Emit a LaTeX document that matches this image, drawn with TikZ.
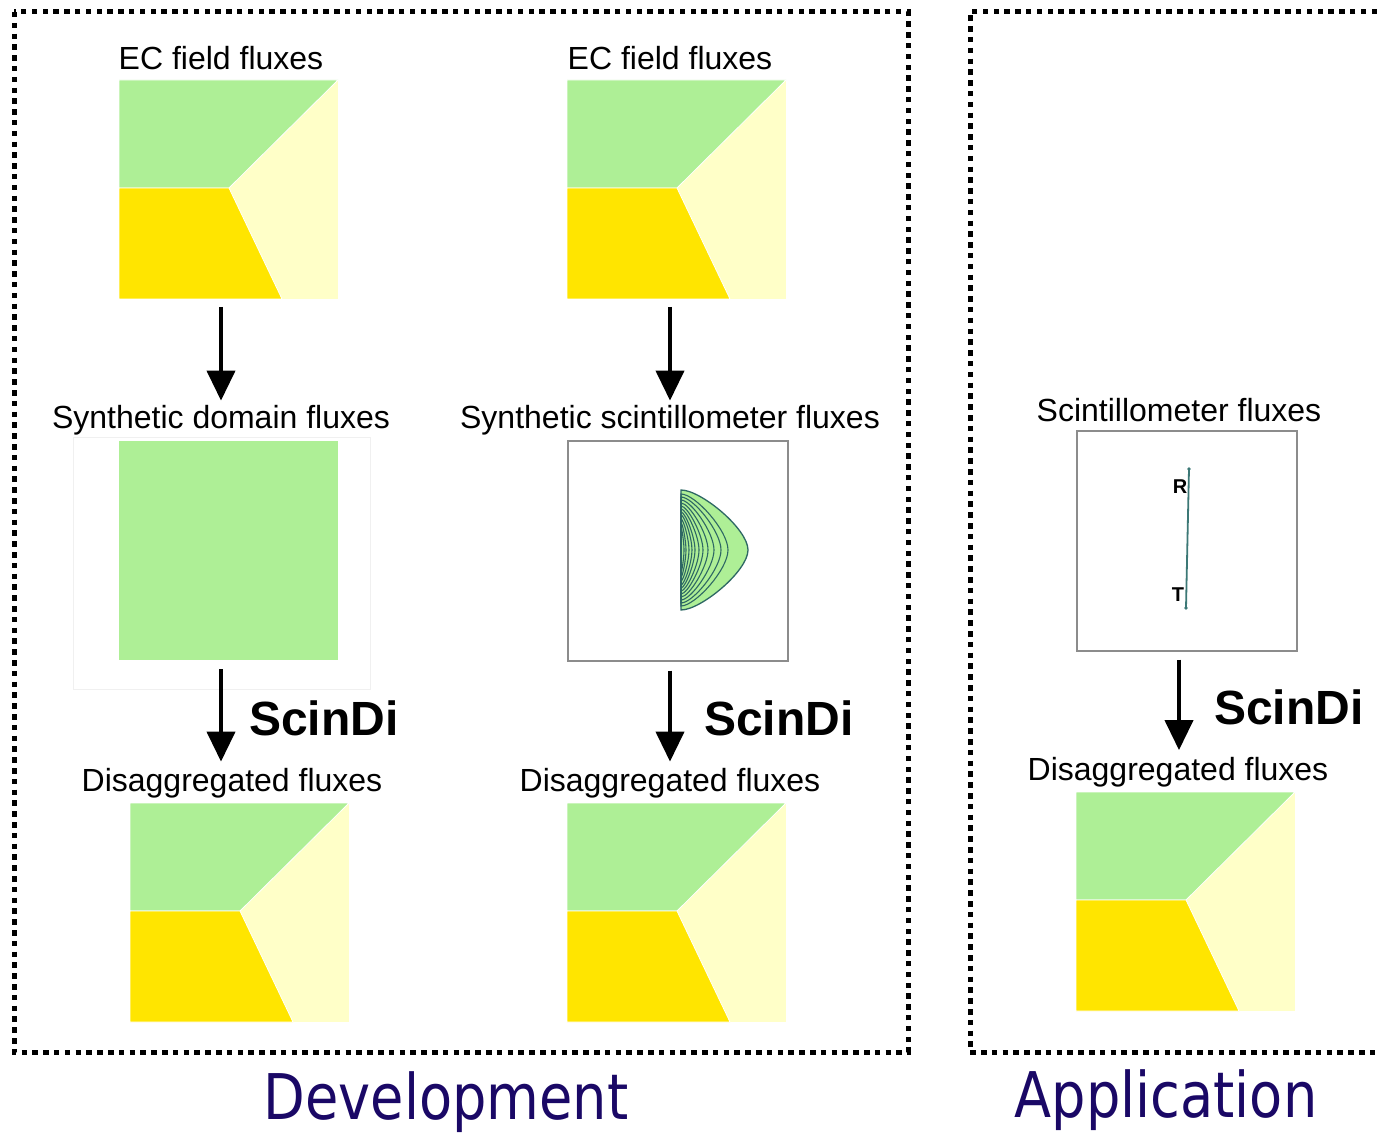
\documentclass[tikz,border=0pt]{standalone}
\usepackage{fontspec}
\setmainfont{Liberation Sans}
\newfontfamily\titlefont[FakeStretch=0.86]{DejaVu Sans}
\usetikzlibrary{arrows.meta,calc}

\definecolor{fluxgreen}{RGB}{174,239,150}
\definecolor{fluxyellow}{RGB}{255,229,0}
\definecolor{fluxpale}{RGB}{255,255,200}
\definecolor{contourline}{RGB}{46,104,100}
\definecolor{pathline}{RGB}{60,120,118}
\definecolor{titleblue}{RGB}{26,8,102}
\definecolor{framegray}{RGB}{140,140,140}

\tikzset{
  mapsq/.style={rectangle, minimum width=219pt, minimum height=219pt, inner sep=0pt, outer sep=0pt},
  lbl/.style={inner sep=0pt, text=black, font=\fontsize{32}{36}\selectfont},
  scindi/.style={inner sep=0pt, text=black, font=\fontsize{48}{52}\selectfont\bfseries},
  arr/.style={line width=4pt, -{Triangle[width=28pt,length=30pt]}},
  dotframe/.style={line width=5pt, dash pattern=on 5.5pt off 5.3pt},
  titletext/.style={inner sep=0pt, text=titleblue, font=\titlefont\fontsize{63}{70}\selectfont},
  plotbox/.style={rectangle, draw=framegray, line width=1.6pt, minimum width=220pt, minimum height=220pt, inner sep=0pt},
  endlbl/.style={inner sep=0pt, text=black, font=\fontsize{20}{22}\selectfont\bfseries},
  regionedge/.style={draw=white, line width=0.8pt},
}

% Three-field flux map: pale background, green upper field, yellow lower-left field
\newcommand\ecmap[2]{%
  \node[mapsq, anchor=north west] (#1) at (#2) {};
  \fill[fluxpale] (#1.north west) rectangle (#1.south east);
  \fill[fluxgreen, regionedge] (#1.north west) -- (#1.north east)
    -- ($(#1.north west)+(110,108)$) -- ($(#1.north west)+(0,108)$) -- cycle;
  \fill[fluxyellow, regionedge] ($(#1.north west)+(0,108)$) -- ($(#1.north west)+(110,108)$)
    -- ($(#1.north west)+(163,219)$) -- (#1.south west) -- cycle;
}

\begin{document}
\begin{tikzpicture}[x=1pt, y=-1pt]
\useasboundingbox (0,0) rectangle (1377,1134);
\fill[white] (0,0) rectangle (1377,1134);

% dotted frames
\draw[dotframe] (14,12) rectangle (908,1052);
\draw[dotframe] (1377,12) -- (970,12) -- (970,1052) -- (1377,1052);

% ---- column 1: synthetic domain ----
\node[lbl, anchor=base] (ec1) at (221,70) {EC field fluxes};
\ecmap{ec1map}{119,80}
\node[lbl, anchor=base] (syn1) at (221,428) {Synthetic domain fluxes};
\draw[black!6, line width=0.8pt] (73,437) rectangle (370,689);
\node[mapsq, fill=fluxgreen, anchor=north west] (syn1map) at (119,441) {};
\node[scindi, anchor=base west] (sd1) at (249,735) {ScinDi};
\node[lbl, anchor=base] (dis1) at (232,791) {Disaggregated fluxes};
\ecmap{dis1map}{130,803}
\draw[arr, shorten <=8pt, shorten >=4pt] (ec1map.south -| syn1.north) -- (syn1.north);
\draw[arr, shorten <=9pt, shorten >=6pt] (syn1map.south -| syn1.north) -- (dis1.north -| syn1.north);

% ---- column 2: synthetic scintillometer ----
\node[lbl, anchor=base] (ec2) at (670,70) {EC field fluxes};
\ecmap{ec2map}{567,80}
\node[lbl, anchor=base] (syn2) at (670,428) {Synthetic scintillometer fluxes};
\node[plotbox, anchor=north west] (syn2box) at (567,440) {};
% footprint contours
\filldraw[fill=fluxgreen, draw=contourline, line width=1.3pt]
  (681,490) .. controls (701,490) and (748,529) .. (748,550)
  .. controls (748,571) and (701,610) .. (681,610) -- cycle;
\foreach \w/\h in {47/56, 40/53, 33/50, 27/47, 22/44, 18/41, 14/38, 11/35, 8/31, 5/27, 3/22} {
  \draw[contourline, line width=1.1pt]
    (681,{550-\h}) .. controls ({681+0.3*\w},{550-\h}) and ({681+\w},{550-0.35*\h}) .. ({681+\w},550)
    .. controls ({681+\w},{550+0.35*\h}) and ({681+0.3*\w},{550+\h}) .. (681,{550+\h}) -- cycle;
}
\node[scindi, anchor=base west] (sd2) at (704,735) {ScinDi};
\node[lbl, anchor=base] (dis2) at (670,791) {Disaggregated fluxes};
\ecmap{dis2map}{567,803}
\draw[arr, shorten <=8pt, shorten >=4pt] (ec2map.south -| syn2.north) -- (syn2.north);
\draw[arr, shorten <=9pt, shorten >=6pt] (syn2box.south -| syn2.north) -- (dis2.north -| syn2.north);

% ---- column 3: application ----
\node[lbl, anchor=base] (sc3) at (1179,421) {Scintillometer fluxes};
\node[plotbox, anchor=north west] (sc3box) at (1076,430) {};
\coordinate (rx) at (1189,469);
\coordinate (tx) at (1186,608);
\draw[pathline, line width=1.8pt] (rx) -- (tx);
\fill[pathline] (rx) circle (1.9pt) (tx) circle (1.9pt);
\node[endlbl] (rlab) at (1180,487) {R};
\node[endlbl] (tlab) at (1178,595) {T};
\node[scindi, anchor=base west] (sd3) at (1214,724) {ScinDi};
\node[lbl, anchor=base] (dis3) at (1178,780) {Disaggregated fluxes};
\ecmap{dis3map}{1076,792}
\draw[arr, shorten <=8pt, shorten >=6.5pt] (sc3box.south -| sc3.north) -- (dis3.north -| sc3.north);

% ---- titles ----
\node[titletext, anchor=base] (dev) at (446,1119) {Development};
\node[titletext, anchor=base] (app) at (1166,1117) {Application};
\end{tikzpicture}
\end{document}
